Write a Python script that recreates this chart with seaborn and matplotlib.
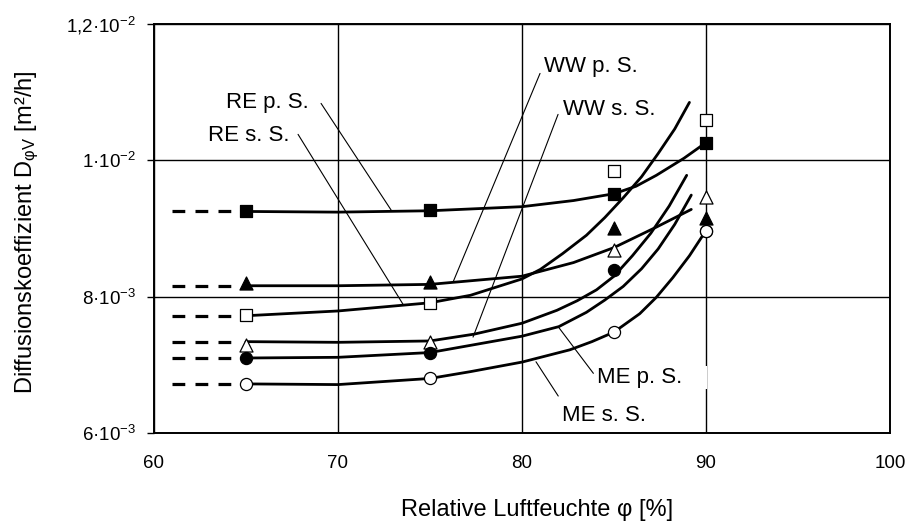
import matplotlib
matplotlib.use("Agg")
import matplotlib.pyplot as plt
import seaborn as sns

# ---------------- data ----------------
X_MEAS = [65, 75, 85, 90]

# measured points (markers)
RE_PS_MEAS = [9.26e-3, 9.27e-3, 9.51e-3, 10.26e-3]
RE_SS_MEAS = [7.73e-3, 7.91e-3, 9.84e-3, 10.59e-3]
WW_PS_MEAS = [8.20e-3, 8.21e-3, 9.00e-3, 9.16e-3]
WW_SS_MEAS = [7.29e-3, 7.34e-3, 8.68e-3, 9.46e-3]
ME_PS_MEAS = [7.10e-3, 7.18e-3, 8.39e-3, 8.97e-3]
ME_SS_MEAS = [6.72e-3, 6.80e-3, 7.48e-3, 8.97e-3]

# fitted curves
RE_PS_CX = [65, 70, 75, 80, 82.8, 85, 86.2, 87.3, 88.8, 90]
RE_PS_CY = [9.25e-3, 9.24e-3, 9.26e-3, 9.32e-3, 9.41e-3, 9.51e-3, 9.62e-3, 9.78e-3, 10.03e-3, 10.26e-3]

RE_SS_CX = [65, 70, 75, 77.2, 80, 81, 82.2, 83.5, 84.5, 85.5, 86.5, 87.4, 88.3, 89.1]
RE_SS_CY = [7.72e-3, 7.79e-3, 7.91e-3, 8.02e-3, 8.26e-3, 8.40e-3, 8.63e-3, 8.90e-3, 9.16e-3,
            9.45e-3, 9.76e-3, 10.10e-3, 10.46e-3, 10.85e-3]

WW_PS_CX = [65, 70, 75, 80, 82.8, 85, 87.3, 89.2]
WW_PS_CY = [8.16e-3, 8.16e-3, 8.18e-3, 8.30e-3, 8.50e-3, 8.72e-3, 9.02e-3, 9.28e-3]

WW_SS_CX = [65, 70, 75, 77.4, 80, 81.9, 83, 84.05, 85, 86, 87, 88, 88.95]
WW_SS_CY = [7.34e-3, 7.33e-3, 7.35e-3, 7.45e-3, 7.61e-3, 7.80e-3, 7.94e-3, 8.10e-3, 8.30e-3,
            8.60e-3, 8.93e-3, 9.33e-3, 9.78e-3]

ME_PS_CX = [65, 70, 75, 80, 82, 83.5, 84.5, 85.5, 86.5, 87.4, 88.3, 89.2]
ME_PS_CY = [7.10e-3, 7.11e-3, 7.18e-3, 7.42e-3, 7.56e-3, 7.77e-3, 7.95e-3, 8.15e-3, 8.41e-3,
            8.70e-3, 9.06e-3, 9.49e-3]

ME_SS_CX = [65, 70, 75, 77.2, 80, 82.6, 83.8, 85, 86.4, 87.3, 88.2, 89.1, 90]
ME_SS_CY = [6.72e-3, 6.71e-3, 6.80e-3, 6.90e-3, 7.04e-3, 7.22e-3, 7.34e-3, 7.48e-3, 7.75e-3,
            7.99e-3, 8.28e-3, 8.60e-3, 8.97e-3]

# dashed extrapolation towards lower humidity
DASH_X = [61.0, 64.6]

X_TICKS = [60, 70, 80, 90, 100]
X_TICK_LABELS = ["60", "70", "80", "90", "100"]
Y_TICKS = [6e-3, 8e-3, 10e-3, 12e-3]
Y_TICK_LABELS = ["6·10$^{-3}$", "8·10$^{-3}$", "1·10$^{-2}$", "1,2·10$^{-2}$"]

X_LABEL = "Relative Luftfeuchte φ [%]"
Y_LABEL = "Diffusionskoeffizient D$_{φV}$ [m²/h]"

# ---------------- style ----------------
sns.set_theme(style="white")
plt.rcParams["font.family"] = ["Liberation Sans", "DejaVu Sans"]
plt.rcParams["mathtext.fontset"] = "custom"
plt.rcParams["mathtext.rm"] = "Liberation Sans"
plt.rcParams["mathtext.it"] = "Liberation Sans:italic"
plt.rcParams["mathtext.bf"] = "Liberation Sans:bold"
plt.rcParams["mathtext.default"] = "regular"

fig = plt.figure(figsize=(9.09, 5.24), dpi=100)
fig.patch.set_facecolor("white")
ax = fig.add_axes([0.1694, 0.1737, 0.8097, 0.7805])
ax.set_facecolor("white")

series = [
    (RE_PS_CX, RE_PS_CY, RE_PS_MEAS, "s", "black", 74),
    (RE_SS_CX, RE_SS_CY, RE_SS_MEAS, "s", "white", 74),
    (WW_PS_CX, WW_PS_CY, WW_PS_MEAS, "^", "black", 88),
    (WW_SS_CX, WW_SS_CY, WW_SS_MEAS, "^", "white", 88),
    (ME_PS_CX, ME_PS_CY, ME_PS_MEAS, "o", "black", 76),
    (ME_SS_CX, ME_SS_CY, ME_SS_MEAS, "o", "white", 76),
]

for cx, cy, my, mk, fc, sz in series:
    sns.lineplot(x=cx, y=cy, ax=ax, color="black", lw=2.0, sort=False,
                 estimator=None, zorder=3)
    ax.plot(DASH_X, [cy[0], cy[0]], color="black", lw=2.3,
            linestyle=(0, (4.0, 3.2)), zorder=3, solid_capstyle="butt")
    sns.scatterplot(x=X_MEAS, y=my, ax=ax, marker=mk, s=sz, color=fc,
                    edgecolor="black", linewidth=0.9, zorder=5)

# ---------------- labels with leader lines ----------------
LABELS = [
    ("RE p. S.", (63.91, 10.772e-3), (69.08, 10.835e-3), (72.93, 9.253e-3)),
    ("RE s. S.", (62.93, 10.283e-3), (67.83, 10.381e-3), (73.53, 7.890e-3)),
    ("WW p. S.", (81.20, 11.294e-3), (80.98, 11.275e-3), (76.25, 8.212e-3)),
    ("WW s. S.", (82.23, 10.659e-3), (81.96, 10.674e-3), (77.34, 7.407e-3)),
    ("ME p. S.    ", (84.08, 6.733e-3), (83.88, 6.875e-3), (81.97, 7.558e-3)),
    ("ME s. S.", (82.17, 6.180e-3), (81.97, 6.542e-3), (80.76, 7.045e-3)),
]
for txt, tpos, l0, l1 in LABELS:
    t = ax.text(tpos[0], tpos[1], txt, ha="left", va="baseline", fontsize=16,
                color="black", zorder=6)
    if txt.startswith("ME p."):
        t.set_bbox(dict(facecolor="white", edgecolor="none", pad=0.5))
    ax.plot([l0[0], l1[0]], [l0[1], l1[1]], color="black", lw=0.8, zorder=2)

# ---------------- axes ----------------
ax.set_xlim(60, 100)
ax.set_ylim(6e-3, 12e-3)
ax.set_xticks(X_TICKS)
ax.set_xticklabels(X_TICK_LABELS)
ax.set_yticks(Y_TICKS)
ax.set_yticklabels(Y_TICK_LABELS)
ax.grid(True, color="black", lw=1.0)
ax.set_axisbelow(True)
for sp in ax.spines.values():
    sp.set_color("black")
    sp.set_linewidth(1.4)
    sp.set_visible(True)
    sp.set_zorder(2.5)

ax.tick_params(axis="x", length=0, pad=16, labelsize=13.5, colors="black")
ax.tick_params(axis="y", direction="out", length=5, width=1.0, pad=8,
               labelsize=13.5, colors="black", left=True)

ax.set_xlabel(X_LABEL, fontsize=17, color="black")
ax.xaxis.set_label_coords(0.521, -0.188)
ax.xaxis.label.set_va("center")
ax.set_ylabel(Y_LABEL, fontsize=17, color="black")
ax.yaxis.set_label_coords(-0.1726, 0.491)
ax.yaxis.label.set_va("center")

fig.savefig("out.png", dpi=100, facecolor="white")
